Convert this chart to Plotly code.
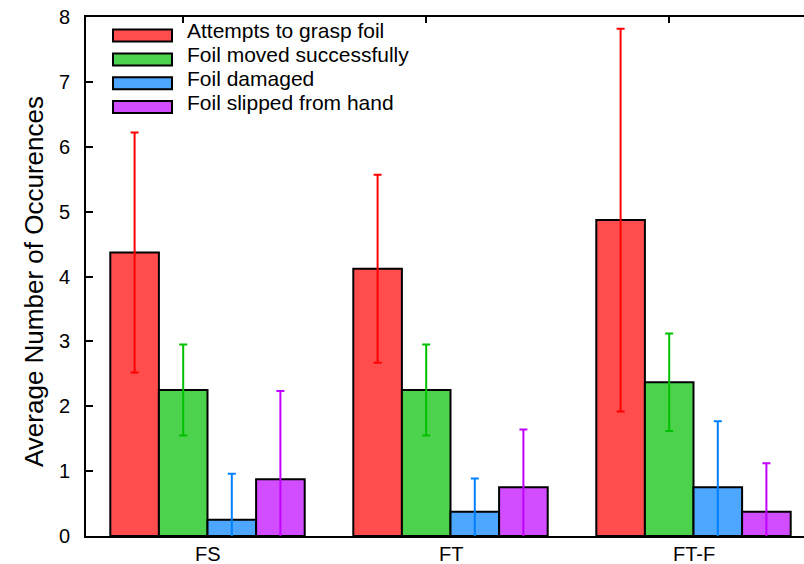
import plotly.graph_objects as go

categories = ["FS", "FT", "FT-F"]
series_names = ["Attempts to grasp foil", "Foil moved successfully", "Foil damaged", "Foil slipped from hand"]
attempts = [4.37, 4.12, 4.87]
attempts_err = [1.85, 1.45, 2.95]
moved = [2.25, 2.25, 2.37]
moved_err = [0.70, 0.70, 0.75]
damaged = [0.25, 0.375, 0.75]
damaged_err = [0.71, 0.51, 1.02]
slipped = [0.875, 0.75, 0.375]
slipped_err = [1.36, 0.89, 0.745]
y_ticks = [0, 1, 2, 3, 4, 5, 6, 7, 8]
y_title = "Average Number of Occurences"

values = [attempts, moved, damaged, slipped]
errors = [attempts_err, moved_err, damaged_err, slipped_err]
fill_colors = ["#ff4d4d", "#4dd24d", "#4da6ff", "#d24dff"]
err_colors = ["#ff0000", "#00c000", "#0080ff", "#c000ff"]

xpos = list(range(len(categories)))
FONT = "Liberation Sans, Arial, sans-serif"

fig = go.Figure()
for name, v, e, fc, ec in zip(series_names, values, errors, fill_colors, err_colors):
    fig.add_trace(go.Bar(
        x=xpos, y=v, name=name,
        marker=dict(color=fc, line=dict(color="black", width=2)),
        error_y=dict(type="data", array=e, visible=True, color=ec, thickness=2, width=4),
        showlegend=False,
    ))

# plot area geometry (pixels)
L, T, B, W, H = 86, 17, 28, 804, 564
pw = W - L
ph = H - T - B

def px2paper(x, y):
    return (x - L) / pw, (H - B - y) / ph

# custom legend with wide swatches
row_y = [35.5, 59.5, 83.3, 107]
for name, fc, ry in zip(series_names, fill_colors, row_y):
    x0, y0 = px2paper(113, ry + 6)
    x1, y1 = px2paper(172, ry - 6)
    fig.add_shape(type="rect", xref="paper", yref="paper", x0=x0, x1=x1, y0=y0, y1=y1,
                  fillcolor=fc, line=dict(color="black", width=2))
    tx, ty = px2paper(185, ry - 5)
    fig.add_annotation(xref="paper", yref="paper", x=tx, y=ty, text=name, showarrow=False,
                       xanchor="left", yanchor="middle", font=dict(size=21, color="black", family=FONT))

# category labels
for i, c in enumerate(categories):
    fig.add_annotation(x=i, y=0, xref="x", yref="y", text=c, showarrow=False,
                       yanchor="top", yshift=-5, font=dict(size=20, color="black", family=FONT))

# y-axis title
tx, ty = px2paper(34, 282)
fig.add_annotation(xref="paper", yref="paper", x=tx, y=ty, text=y_title, showarrow=False,
                   textangle=-90, xanchor="center", yanchor="middle",
                   font=dict(size=26, color="black", family=FONT))

right_val = -0.5 + pw / 243.0
fig.update_layout(
    width=W, height=H,
    margin=dict(l=L, r=0, t=T, b=B),
    paper_bgcolor="white", plot_bgcolor="white",
    barmode="group", bargap=0.2, bargroupgap=0,
    font=dict(family=FONT, color="black"),
    xaxis=dict(range=[-0.5, right_val], tickvals=[i - 0.1 for i in xpos], showticklabels=False,
               ticks="inside", ticklen=6, tickwidth=2, tickcolor="black",
               showline=True, linecolor="black", linewidth=2, mirror="ticks",
               showgrid=False, zeroline=False, layer="below traces"),
    yaxis=dict(range=[0, 8], tickvals=y_ticks, ticks="inside", ticklen=7, tickwidth=2, tickcolor="black",
               showline=True, linecolor="black", linewidth=2, showgrid=False, zeroline=False,
               tickfont=dict(size=20, family=FONT, color="black"), ticklabelstandoff=10),
)

fig.write_html("out.html")
